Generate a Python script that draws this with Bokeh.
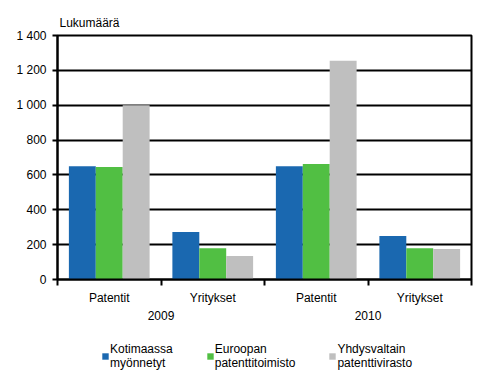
from bokeh.plotting import figure
from bokeh.models import (FixedTicker, LinearAxis, Range1d, Legend, LegendItem)
from bokeh.layouts import column
from bokeh.embed import file_html
from bokeh.resources import INLINE
import numpy as np

categories = ["Patentit", "Yritykset", "Patentit", "Yritykset"]
years = ["2009", "2010"]
series_names = ["Kotimaassa\nmyönnetyt", "Euroopan\npatenttitoimisto", "Yhdysvaltain\npatenttivirasto"]
kotimaassa = [650, 272, 650, 250]
euroopan = [645, 180, 662, 180]
yhdysvaltain = [1000, 135, 1255, 175]
y_ticks = [0, 200, 400, 600, 800, 1000, 1200, 1400]
y_labels = ["0", "200", "400", "600", "800", "1 000", "1 200", "1 400"]
colors = ["#1a68b0", "#51bf43", "#bfbfbf"]

FONT = "Liberation Sans"

p = figure(frame_width=414, frame_height=244, output_backend="svg", toolbar_location=None,
           x_range=Range1d(0, len(categories)), y_range=Range1d(0, 1400),
           min_border_left=57, min_border_right=18, min_border_top=35,
           min_border_bottom=55, x_axis_location=None,
           title="Lukumäärä")
p.title.text_font = FONT
p.title.text_font_size = "12px"
p.title.text_font_style = "normal"
p.title.text_color = "black"
p.title.align = "left"
p.title.offset = 2
p.title.standoff = 12
p.background_fill_color = "white"
p.border_fill_color = "white"
p.outline_line_color = "black"
p.outline_line_width = 2

centers = np.arange(len(categories)) + 0.5
bw = 0.26
offsets = [-bw, 0, bw]
for vals, off, col in zip([kotimaassa, euroopan, yhdysvaltain], offsets, colors):
    p.vbar(x=centers + off, top=vals, width=bw, fill_color=col, line_color=None)

# y axis
p.yaxis.ticker = FixedTicker(ticks=y_ticks)
p.yaxis.major_label_overrides = {t: l for t, l in zip(y_ticks, y_labels)}
p.yaxis.axis_line_color = "black"
p.yaxis.axis_line_width = 2
p.yaxis.major_tick_out = 5
p.yaxis.major_tick_in = 0
p.yaxis.major_tick_line_width = 2
p.yaxis.minor_tick_line_color = None
p.yaxis.major_label_text_font = FONT
p.yaxis.major_label_text_font_size = "12px"
p.yaxis.major_label_text_color = "black"
p.yaxis.major_label_standoff = 6

p.xgrid.visible = False
p.ygrid.ticker = FixedTicker(ticks=y_ticks)
p.ygrid.grid_line_color = "black"
p.ygrid.grid_line_width = 2

# x axis with category labels
xa = LinearAxis(ticker=FixedTicker(ticks=list(centers), minor_ticks=list(range(len(categories) + 1))))
xa.major_label_overrides = {float(c): n for c, n in zip(centers, categories)}
xa.axis_line_color = "black"
xa.axis_line_width = 2
xa.major_tick_line_color = None
xa.minor_tick_out = 6
xa.minor_tick_in = 0
xa.minor_tick_line_color = "black"
xa.minor_tick_line_width = 2
xa.major_label_text_font = FONT
xa.major_label_text_font_size = "12px"
xa.major_label_text_color = "black"
xa.major_label_standoff = 5
p.add_layout(xa, "below")

year_centers = [1.0, 3.0]
ya = LinearAxis(ticker=FixedTicker(ticks=year_centers, minor_ticks=[]))
ya.major_label_overrides = {c: y for c, y in zip(year_centers, years)}
ya.axis_line_color = None
ya.major_tick_line_color = None
ya.major_tick_out = 0
ya.major_tick_in = 0
ya.minor_tick_line_color = None
ya.major_label_text_font = FONT
ya.major_label_text_font_size = "12px"
ya.major_label_text_color = "black"
ya.major_label_standoff = 3
p.add_layout(ya, "below")

# legend in its own strip below the chart (frame aligned with the chart's frame)
lg = figure(width=489, height=377 - 334, output_backend="svg", toolbar_location=None,
            x_range=Range1d(0, 1), y_range=Range1d(0, 1),
            min_border=0, x_axis_location=None, y_axis_location=None)
lg.outline_line_color = None
lg.grid.visible = False
lg.background_fill_color = "white"
lg.border_fill_color = "white"
# legend keys only: zero-height bars, nothing visible is drawn
lg_renderers = [lg.vbar(x=[0.5], top=[0], bottom=[0], width=0.0, fill_color=c, line_color=None)
                for c in colors]
legend = Legend(items=[LegendItem(label=n, renderers=[r], index=0) for n, r in zip(series_names, lg_renderers)],
                orientation="horizontal", location=(44, 7),
                label_text_font=FONT, label_text_font_size="12px",
                label_text_line_height=1.17,
                label_text_color="black", glyph_width=8, glyph_height=8,
                label_standoff=1, spacing=33, padding=4, margin=0,
                border_line_color=None, background_fill_alpha=0)
lg.add_layout(legend, "center")

layout = column(p, lg, spacing=0)
open("out.html", "w").write(file_html(layout, INLINE))
